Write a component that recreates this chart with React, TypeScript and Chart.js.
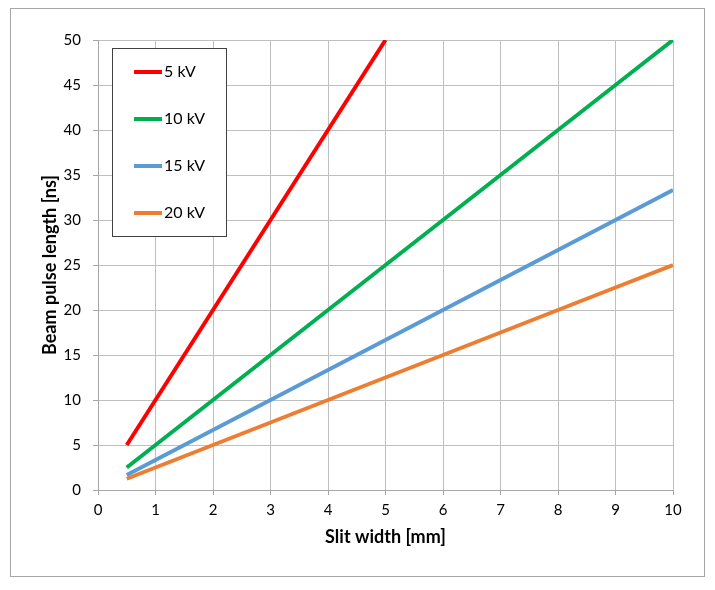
import React, { useEffect, useRef } from "react";
import { Chart, registerables } from "chart.js";

Chart.register(...registerables);

const slitWidths = [0.5, 1, 2, 3, 4, 5, 6, 7, 8, 9, 10];
const kv5 = [5, 10, 20, 30, 40, 50];
const kv10 = [2.5, 5, 10, 15, 20, 25, 30, 35, 40, 45, 50];
const kv15 = [1.67, 3.33, 6.67, 10, 13.33, 16.67, 20, 23.33, 26.67, 30, 33.33];
const kv20 = [1.25, 2.5, 5, 7.5, 10, 12.5, 15, 17.5, 20, 22.5, 25];
const seriesLabels = ["5 kV", "10 kV", "15 kV", "20 kV"];
const seriesColors = ["#ff0000", "#00b050", "#5b9bd5", "#ed7d31"];
const xTitle = "Slit width [mm]";
const yTitle = "Beam pulse length [ns]";

const FONT = "Lato, 'Open Sans', sans-serif";

const borderPlugin = {
  id: "outerBorder",
  beforeDraw(chart: any) {
    const ctx = chart.ctx;
    ctx.save();
    ctx.fillStyle = "#ffffff";
    ctx.fillRect(0, 0, chart.width, chart.height);
    ctx.strokeStyle = "#a6a6a6";
    ctx.lineWidth = 1;
    ctx.strokeRect(10.5, 8.5, 694, 568);
    ctx.restore();
  },
};

const legendPlugin = {
  id: "boxLegend",
  afterDatasetsDraw(chart: any) {
    const ctx = chart.ctx;
    const area = chart.chartArea;
    const left = area.left + 14;
    const top = area.top + 8;
    const w = 114;
    const h = 188;
    ctx.save();
    ctx.fillStyle = "#ffffff";
    ctx.fillRect(left, top, w, h);
    ctx.strokeStyle = "#404040";
    ctx.lineWidth = 1;
    ctx.strokeRect(left + 0.5, top + 0.5, w, h);
    ctx.font = "16px " + FONT;
    ctx.textBaseline = "middle";
    ctx.fillStyle = "#000000";
    chart.data.datasets.forEach((ds: any, i: number) => {
      const y = top + 24 + i * 47;
      ctx.strokeStyle = ds.borderColor;
      ctx.lineWidth = 4;
      ctx.beginPath();
      ctx.moveTo(left + 22, y);
      ctx.lineTo(left + 50, y);
      ctx.stroke();
      ctx.fillText(ds.label, left + 52, y);
    });
    ctx.restore();
  },
};

export default function App() {
  const ref = useRef<HTMLCanvasElement>(null);
  useEffect(() => {
    const mk = (vals: number[]) => vals.map((v, i) => ({ x: slitWidths[i], y: v }));
    const all = [kv5, kv10, kv15, kv20];
    const chart = new Chart(ref.current!, {
      type: "line",
      data: {
        datasets: all.map((vals, i) => ({
          label: seriesLabels[i],
          data: mk(vals),
          borderColor: seriesColors[i],
          backgroundColor: seriesColors[i],
          borderWidth: 4,
          pointRadius: 0,
          tension: 0,
        })),
      },
      options: {
        animation: false,
        responsive: false,
        layout: { padding: { left: 30, top: 40, right: 42, bottom: 40 } },
        plugins: { legend: { display: false }, tooltip: { enabled: false } },
        scales: {
          x: {
            type: "linear",
            min: 0,
            max: 10,
            ticks: { stepSize: 1, color: "#000", padding: 6, font: { family: FONT, size: 15 } },
            grid: { color: "#bfbfbf", tickLength: 5, tickColor: "#a6a6a6" },
            border: { color: "#a6a6a6" },
            title: {
              display: true,
              text: xTitle,
              color: "#000",
              font: { family: FONT, size: 18, weight: "bold" },
              padding: { top: 0, bottom: 2 },
            },
            afterFit: (s: any) => { s.height = 60; },
          },
          y: {
            min: 0,
            max: 50,
            ticks: { stepSize: 5, color: "#000", padding: 12, font: { family: FONT, size: 15 } },
            grid: { color: "#bfbfbf", tickLength: 5, tickColor: "#a6a6a6" },
            border: { color: "#a6a6a6" },
            title: {
              display: true,
              text: yTitle,
              color: "#000",
              font: { family: FONT, size: 18, weight: "bold" },
              padding: { top: 9, bottom: 0 },
            },
            afterFit: (s: any) => { s.width = 68; },
          },
        },
      },
      plugins: [borderPlugin, legendPlugin],
    } as any);
    return () => chart.destroy();
  }, []);
  return (
    <div style={{ position: "absolute", left: 0, top: 0, width: 715, height: 590, background: "#fff" }}>
      <canvas ref={ref} width={715} height={590} style={{ display: "block" }} />
    </div>
  );
}
